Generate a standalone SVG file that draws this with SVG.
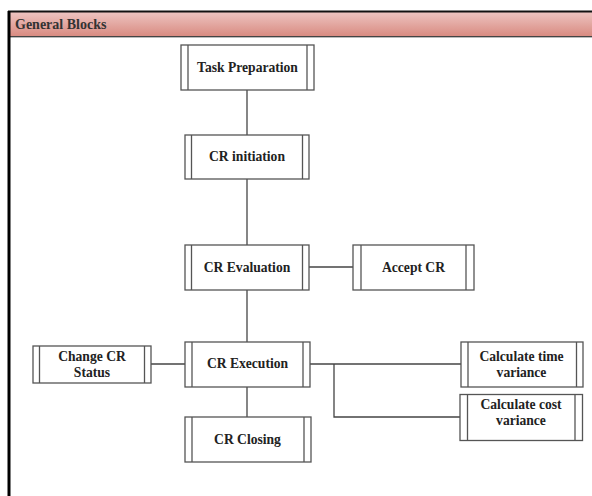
<svg xmlns="http://www.w3.org/2000/svg" width="592" height="496" viewBox="0 0 592 496">
<defs>
<linearGradient id="hdr" x1="0" y1="0" x2="0" y2="1">
<stop offset="0" stop-color="#edc4c1"/>
<stop offset="1" stop-color="#d8897f"/>
</linearGradient>
</defs>
<style>
.box{fill:#fff;stroke:#555;stroke-width:1.3}
.bar{stroke:#555;stroke-width:1.3;fill:none}
.lbl{font-family:"Liberation Serif","Times New Roman",serif;font-weight:bold;font-size:13.6px;fill:#222;text-anchor:middle}
.conn{stroke:#444;stroke-width:1.3;fill:none}
</style>
<rect x="0" y="0" width="592" height="496" fill="#fff"/>
<g id="frame">
<rect x="9" y="12" width="590" height="25" fill="url(#hdr)"/>
<line x1="8" y1="11.5" x2="592" y2="11.5" stroke="#111" stroke-width="2"/>
<line x1="9" y1="36.5" x2="592" y2="36.5" stroke="#444" stroke-width="1"/>
<line x1="9" y1="37.5" x2="592" y2="37.5" stroke="#bbb" stroke-width="1"/>
<line x1="9" y1="11" x2="9" y2="496" stroke="#000" stroke-width="3"/>
<text x="15" y="28.5" font-family="Liberation Serif, Times New Roman, serif" font-weight="bold" font-size="14" fill="#333">General Blocks</text>
</g>
<g id="connectors">
<line class="conn" x1="247" y1="90" x2="247" y2="135"/>
<line class="conn" x1="247" y1="179" x2="247" y2="245"/>
<line class="conn" x1="309" y1="267" x2="353" y2="267"/>
<line class="conn" x1="247" y1="290" x2="247" y2="342"/>
<line class="conn" x1="151" y1="364" x2="185" y2="364"/>
<line class="conn" x1="247" y1="387" x2="247" y2="417"/>
<polyline class="conn" points="310,364 461,364"/>
<polyline class="conn" points="334,364 334,417 460,417"/>
</g>
<g id="task-preparation">
<rect class="box" x="181" y="45" width="133" height="45"/>
<line class="bar" x1="188" y1="45" x2="188" y2="90"/>
<line class="bar" x1="307" y1="45" x2="307" y2="90"/>
<text class="lbl" x="247.5" y="72">Task Preparation</text>
</g>
<g id="cr-initiation">
<rect class="box" x="185" y="135" width="124" height="44"/>
<line class="bar" x1="191.5" y1="135" x2="191.5" y2="179"/>
<line class="bar" x1="302.5" y1="135" x2="302.5" y2="179"/>
<text class="lbl" x="247" y="161">CR initiation</text>
</g>
<g id="cr-evaluation">
<rect class="box" x="185" y="245" width="124" height="45"/>
<line class="bar" x1="191.5" y1="245" x2="191.5" y2="290"/>
<line class="bar" x1="302.5" y1="245" x2="302.5" y2="290"/>
<text class="lbl" x="247" y="272">CR Evaluation</text>
</g>
<g id="accept-cr">
<rect class="box" x="353" y="245" width="121" height="45"/>
<line class="bar" x1="361" y1="245" x2="361" y2="290"/>
<line class="bar" x1="466" y1="245" x2="466" y2="290"/>
<text class="lbl" x="413.5" y="272">Accept CR</text>
</g>
<g id="change-cr-status">
<rect class="box" x="33" y="346" width="118" height="37"/>
<line class="bar" x1="39.5" y1="346" x2="39.5" y2="383"/>
<line class="bar" x1="144.5" y1="346" x2="144.5" y2="383"/>
<text class="lbl" x="92" y="361">Change CR</text>
<text class="lbl" x="92" y="377">Status</text>
</g>
<g id="cr-execution">
<rect class="box" x="185" y="342" width="125" height="45"/>
<line class="bar" x1="192" y1="342" x2="192" y2="387"/>
<line class="bar" x1="303" y1="342" x2="303" y2="387"/>
<text class="lbl" x="247.5" y="368">CR Execution</text>
</g>
<g id="cr-closing">
<rect class="box" x="185" y="417" width="126" height="45"/>
<line class="bar" x1="192" y1="417" x2="192" y2="462"/>
<line class="bar" x1="304" y1="417" x2="304" y2="462"/>
<text class="lbl" x="247.5" y="444">CR Closing</text>
</g>
<g id="calc-time-variance">
<rect class="box" x="461" y="342" width="122" height="45"/>
<line class="bar" x1="468" y1="342" x2="468" y2="387"/>
<line class="bar" x1="576.5" y1="342" x2="576.5" y2="387"/>
<text class="lbl" x="521.5" y="361">Calculate time</text>
<text class="lbl" x="521.5" y="377">variance</text>
</g>
<g id="calc-cost-variance">
<rect class="box" x="460" y="394.5" width="122.5" height="46"/>
<line class="bar" x1="467.5" y1="394.5" x2="467.5" y2="440.5"/>
<line class="bar" x1="575" y1="394.5" x2="575" y2="440.5"/>
<text class="lbl" x="521" y="409">Calculate cost</text>
<text class="lbl" x="521" y="425">variance</text>
</g>
</svg>
